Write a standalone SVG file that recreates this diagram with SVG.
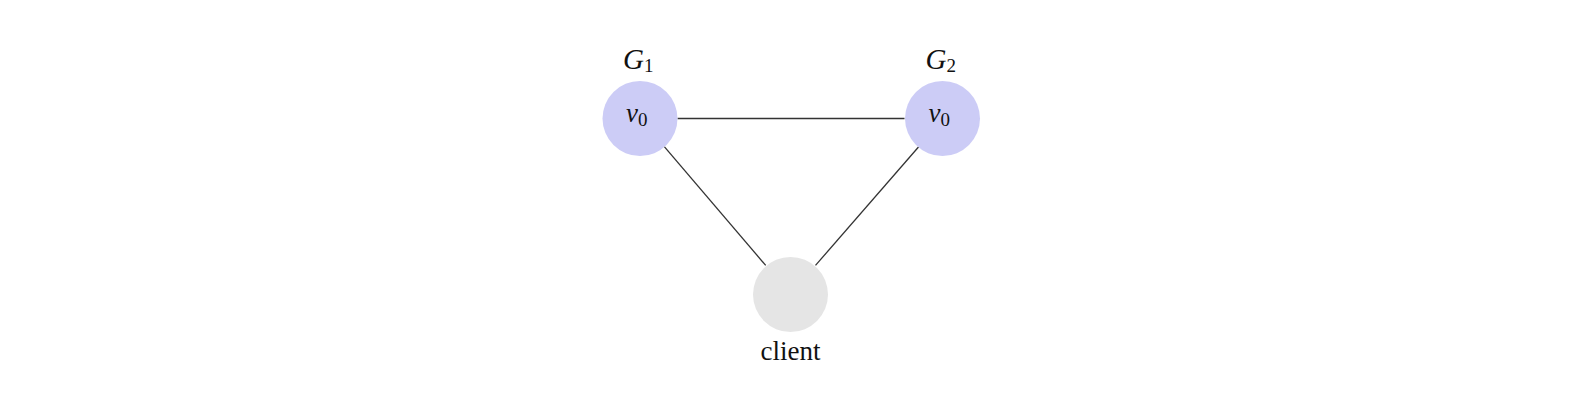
<svg xmlns="http://www.w3.org/2000/svg" width="1574" height="410" viewBox="0 0 1574 410">
<style>
.t{font-family:"Liberation Serif","DejaVu Serif",serif;fill:#111}
.i{font-style:italic}
.blue{fill:#ccccf6}
.gray{fill:#e5e5e5}
.edge{stroke:#333;stroke-width:1.3;fill:none}
</style>
<rect width="1574" height="410" fill="#fff"/>
<g id="connectors">
<line class="edge" x1="677.5" y1="118.5" x2="904.5" y2="118.5"/>
<line class="edge" x1="664.3" y1="146.6" x2="765.7" y2="265.4"/>
<line class="edge" x1="918.5" y1="147" x2="815.5" y2="265.4"/>
</g>
<g id="G1">
<circle class="blue" cx="640" cy="118.5" r="37.5"/>
<text class="t" x="623" y="68.5" font-size="29"><tspan class="i">G</tspan><tspan font-size="19" dy="3">1</tspan></text>
<text class="t" x="626" y="121.5" font-size="27"><tspan class="i">v</tspan><tspan font-size="19" dy="4.5">0</tspan></text>
</g>
<g id="G2">
<circle class="blue" cx="942.5" cy="118.5" r="37.5"/>
<text class="t" x="925.5" y="68.5" font-size="29"><tspan class="i">G</tspan><tspan font-size="19" dy="3">2</tspan></text>
<text class="t" x="928.5" y="121.5" font-size="27"><tspan class="i">v</tspan><tspan font-size="19" dy="4.5">0</tspan></text>
</g>
<g id="client">
<circle class="gray" cx="790.5" cy="294.5" r="37.5"/>
<text class="t" x="790.5" y="360" text-anchor="middle" font-size="27">client</text>
</g>
</svg>
